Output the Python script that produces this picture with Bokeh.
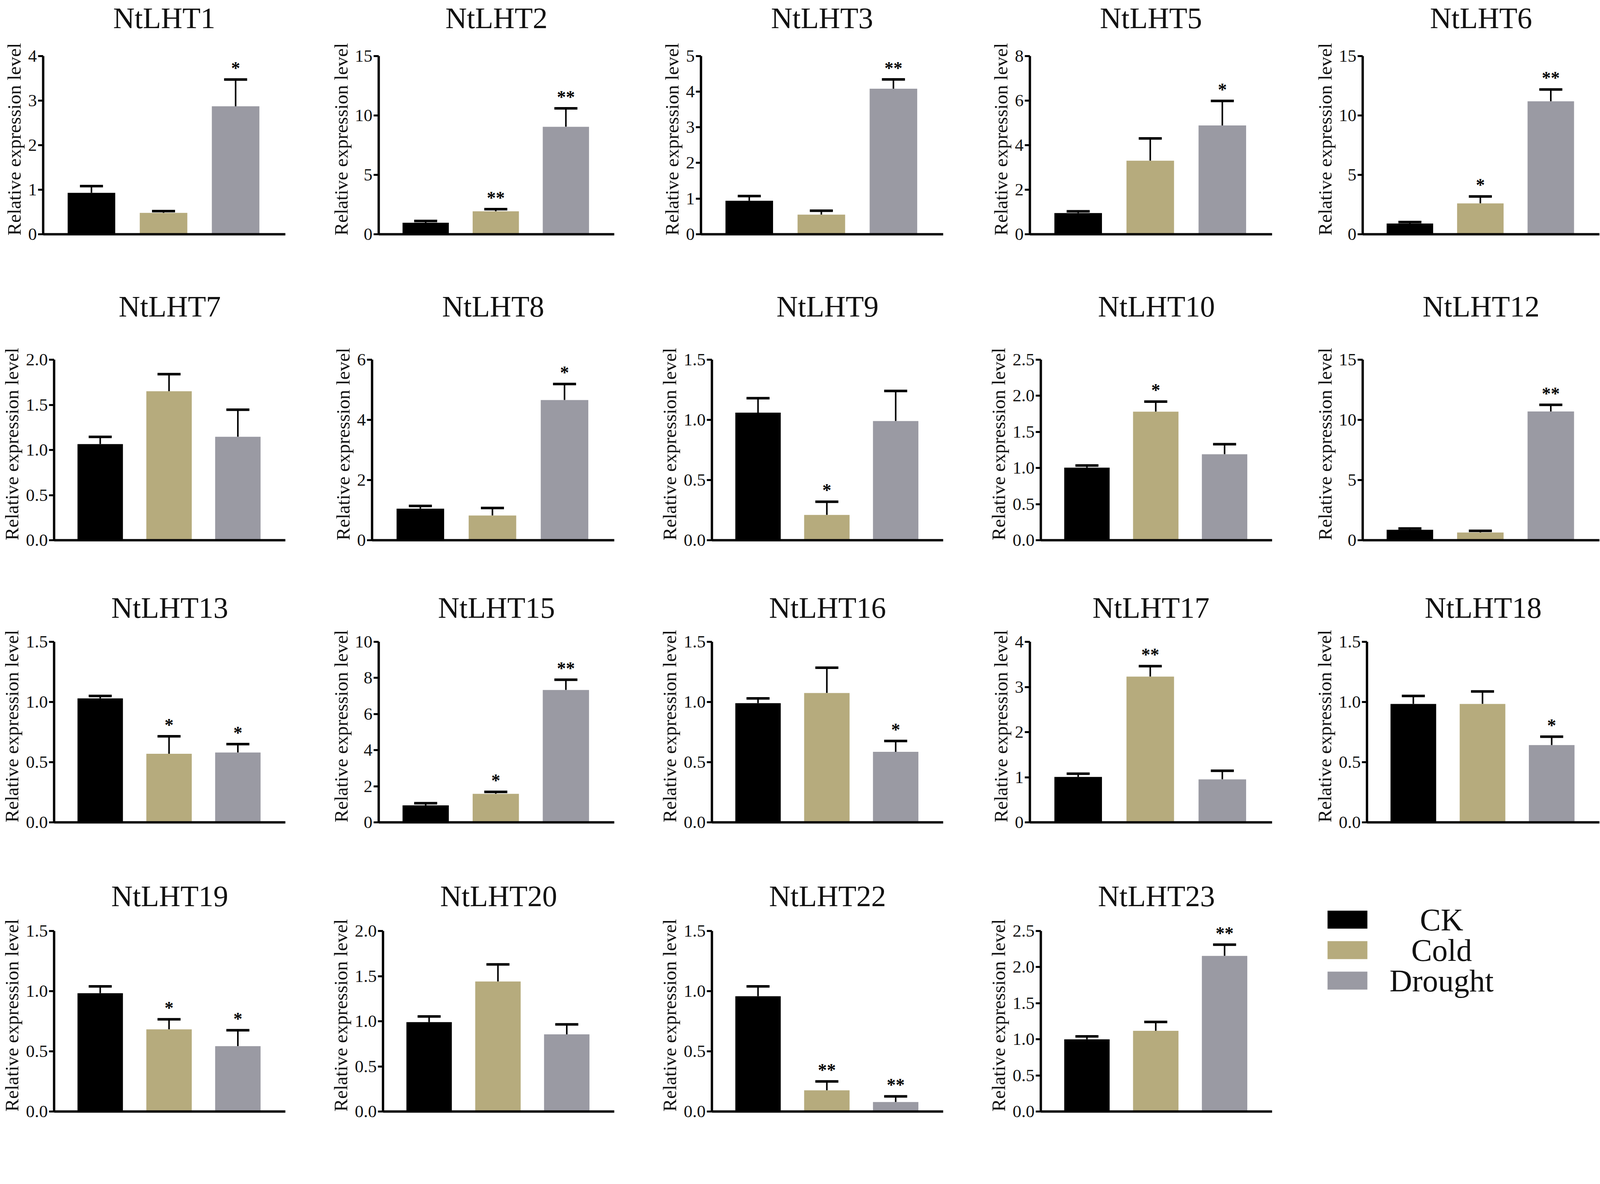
from bokeh.plotting import figure
from bokeh.layouts import row, column
from bokeh.models import (ColumnDataSource, Range1d, FixedTicker, Whisker, TeeHead,
                          NumeralTickFormatter, LinearAxis)
from bokeh.core.properties import value
from bokeh.embed import file_html
from bokeh.resources import INLINE

# ---------------- data ----------------
genes = ["NtLHT1", "NtLHT2", "NtLHT3", "NtLHT5", "NtLHT6",
         "NtLHT7", "NtLHT8", "NtLHT9", "NtLHT10", "NtLHT12",
         "NtLHT13", "NtLHT15", "NtLHT16", "NtLHT17", "NtLHT18",
         "NtLHT19", "NtLHT20", "NtLHT22", "NtLHT23"]
treatments = ["CK", "Cold", "Drought"]

ck_mean = [0.93, 0.97, 0.94, 0.95, 0.90,
           1.065, 1.05, 1.06, 1.005, 0.87,
           1.03, 0.94, 0.99, 1.007, 0.984,
           0.983, 0.99, 0.958, 1.00]
ck_sem = [0.15, 0.15, 0.13, 0.08, 0.13,
          0.08, 0.09, 0.12, 0.03, 0.10,
          0.02, 0.12, 0.04, 0.07, 0.066,
          0.057, 0.063, 0.082, 0.04]
cold_mean = [0.48, 1.93, 0.55, 3.30, 2.60,
             1.65, 0.82, 0.21, 1.78, 0.64,
             0.57, 1.58, 1.075, 3.23, 0.984,
             0.683, 1.44, 0.176, 1.118]
cold_sem = [0.04, 0.18, 0.11, 1.00, 0.58,
            0.19, 0.25, 0.11, 0.14, 0.14,
            0.145, 0.11, 0.21, 0.23, 0.104,
            0.083, 0.19, 0.074, 0.122]
drought_mean = [2.87, 9.04, 4.08, 4.88, 11.18,
                1.146, 4.66, 0.99, 1.19, 10.70,
                0.58, 7.33, 0.586, 0.953, 0.642,
                0.543, 0.855, 0.079, 2.155]
drought_sem = [0.60, 1.55, 0.26, 1.10, 1.00,
               0.30, 0.53, 0.25, 0.14, 0.55,
               0.07, 0.57, 0.09, 0.19, 0.07,
               0.132, 0.11, 0.047, 0.155]
ck_sig = [""] * 19
cold_sig = ["", "**", "", "", "*",
            "", "", "*", "*", "",
            "*", "*", "", "**", "",
            "*", "", "**", ""]
drought_sig = ["*", "**", "**", "*", "**",
               "", "*", "", "", "**",
               "*", "**", "*", "", "*",
               "*", "", "**", "**"]
y_ticks = [[0, 1, 2, 3, 4], [0, 5, 10, 15], [0, 1, 2, 3, 4, 5], [0, 2, 4, 6, 8], [0, 5, 10, 15],
           [0.0, 0.5, 1.0, 1.5, 2.0], [0, 2, 4, 6], [0.0, 0.5, 1.0, 1.5], [0.0, 0.5, 1.0, 1.5, 2.0, 2.5], [0, 5, 10, 15],
           [0.0, 0.5, 1.0, 1.5], [0, 2, 4, 6, 8, 10], [0.0, 0.5, 1.0, 1.5], [0, 1, 2, 3, 4], [0.0, 0.5, 1.0, 1.5],
           [0.0, 0.5, 1.0, 1.5], [0.0, 0.5, 1.0, 1.5, 2.0], [0.0, 0.5, 1.0, 1.5], [0.0, 0.5, 1.0, 1.5, 2.0, 2.5]]
y_tick_format = ["0", "0", "0", "0", "0",
                 "0.0", "0", "0.0", "0.0", "0",
                 "0.0", "0", "0.0", "0", "0.0",
                 "0.0", "0.0", "0.0", "0.0"]
colors = ["#000000", "#b6ab7d", "#9a9aa3"]
y_label = "Relative expression level"

# ---------------- layout (CSS px) ----------------
FONT = "Liberation Serif"
COL_W = [842, 842, 842, 835, 741]
FRAME_RIGHT = [730, 730, 730, 730, 733]   # frame right edge, measured from a column's left
ROW_H = [694, 790, 720, 674]
TOP = [137, 226, 158, 178]      # space above the axis top
BOT = [95, 102, 100, 34]
TITLE_STANDOFF = [56, 95, 46, 48]
EXTRA = 30                      # head-room inside the frame for marks above the axis top
LEFT = 110
X0, X1 = 0.33, 3.69

rows_of_figs = [[] for _ in ROW_H]
for i, g in enumerate(genes):
    r, c = divmod(i, 5)
    ymax = y_ticks[i][-1]
    core_h = ROW_H[r] - TOP[r] - BOT[r]
    y_end = ymax * (1 + EXTRA / core_h)
    means = [ck_mean[i], cold_mean[i], drought_mean[i]]
    sems = [ck_sem[i], cold_sem[i], drought_sem[i]]
    sigs = [ck_sig[i], cold_sig[i], drought_sig[i]]
    src = ColumnDataSource(dict(
        x=[1, 2, 3],
        top=means,
        up=[m + s for m, s in zip(means, sems)],
        color=colors,
        sig=sigs,
        treat=treatments,
    ))
    p = figure(width=COL_W[c], height=ROW_H[r],
               x_range=Range1d(X0, X1), y_range=Range1d(0, y_end),
               output_backend="svg", toolbar_location=None,
               min_border_left=LEFT, min_border_right=COL_W[c] - FRAME_RIGHT[c],
               min_border_top=TOP[r] - EXTRA, min_border_bottom=BOT[r])

    p.xgrid.visible = False
    p.ygrid.visible = False
    p.outline_line_color = None

    # bottom axis: plain line, no ticks
    xa = p.below[0]
    xa.ticker = FixedTicker(ticks=[])
    xa.axis_line_width = 6
    xa.axis_line_color = "black"
    xa.major_tick_out = 0
    xa.major_tick_in = 0
    xa.minor_tick_out = 0
    xa.minor_tick_in = 0
    xa.major_label_text_font_size = "0px"
    xa.major_label_standoff = 0

    ya = p.left[0]
    ya.bounds = (0, ymax)
    ya.ticker = FixedTicker(ticks=y_ticks[i])
    ya.formatter = NumeralTickFormatter(format=y_tick_format[i])
    ya.axis_line_width = 6
    ya.axis_line_color = "black"
    ya.major_tick_line_width = 5
    ya.major_tick_line_color = "black"
    ya.major_tick_out = 13
    ya.major_tick_in = 0
    ya.minor_tick_line_color = None
    ya.major_label_standoff = 3
    ya.major_label_text_font = FONT
    ya.major_label_text_font_size = "45px"
    ya.major_label_text_color = "#111111"
    ya.axis_label = y_label
    ya.axis_label_text_font = FONT
    ya.axis_label_text_font_size = "49px"
    ya.axis_label_text_font_style = "normal"
    ya.axis_label_text_color = "#111111"
    ya.axis_label_standoff = 5

    p.vbar(x="x", top="top", bottom=0, width=0.66, fill_color="color",
           line_color=None, source=src)
    w = Whisker(base="x", lower="top", upper="up", source=src,
                line_color="black", line_width=4,
                upper_head=TeeHead(size=59, line_width=6.5, line_color="black"),
                lower_head=None)
    p.add_layout(w)
    p.text(x="x", y="up", text="sig", source=src, text_align="center",
           text_baseline="alphabetic", y_offset=-29,
           text_font=value(FONT), text_font_size="46px", text_font_style="bold",
           text_color="black")

    # panel title: label of an empty axis above the frame
    ta = LinearAxis(ticker=FixedTicker(ticks=[]), axis_label=g,
                    axis_line_color=None, major_tick_out=0, major_tick_in=0,
                    minor_tick_out=0, minor_tick_in=0, major_label_standoff=0,
                    major_tick_line_color=None, minor_tick_line_color=None,
                    major_label_text_font_size="0px",
                    axis_label_standoff=TITLE_STANDOFF[r] - EXTRA,
                    axis_label_text_font=FONT, axis_label_text_font_size="76px",
                    axis_label_text_font_style="normal", axis_label_text_color="#111111")
    p.add_layout(ta, "above")
    rows_of_figs[r].append(p)

# ---------------- legend panel ----------------
LW, LH = COL_W[4], ROW_H[3]
lp = figure(width=LW, height=LH, x_range=Range1d(0, LW), y_range=Range1d(LH, 0),
            output_backend="svg", toolbar_location=None, min_border=0,
            x_axis_location=None, y_axis_location=None)
lp.xgrid.visible = False
lp.ygrid.visible = False
lp.outline_line_color = None
leg_y = [149 + k * 78 for k in range(len(treatments))]
lsrc = ColumnDataSource(dict(x=[88] * 3, tx=[329] * 3, y=leg_y, color=colors, label=treatments))
lp.rect(x="x", y="y", width=102, height=46, fill_color="color", line_color=None, source=lsrc)
lp.text(x="tx", y="y", text="label", source=lsrc, text_align="center", text_baseline="middle",
        text_font=value(FONT), text_font_size="80px", text_color="#111111")
rows_of_figs[3].append(column(lp))

layout = column(*[row(*figs_r) for figs_r in rows_of_figs])

open("out.html", "w").write(file_html(layout, INLINE))
